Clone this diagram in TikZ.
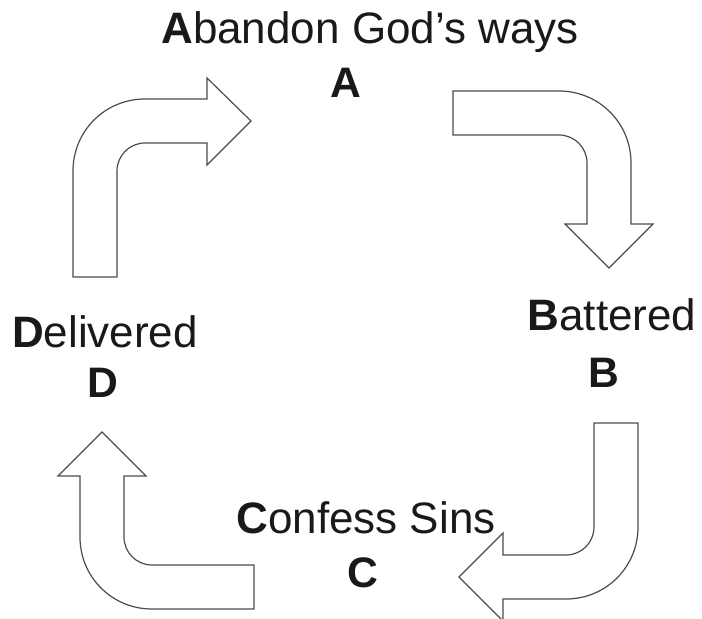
\documentclass[tikz,border=0pt]{standalone}
\usepackage{fontspec}
\setmainfont{Liberation Sans}
\begin{document}
\begin{tikzpicture}[
        x=0.75pt,y=-0.75pt,
        bent/.style={draw=black!70,fill=white,line width=0.9pt,line join=miter},
        stage/.style={anchor=base,inner sep=0pt,text=black!90,font=\fontsize{33}{39}\selectfont},
        stageletter/.style={stage,font=\fontsize{32}{38}\selectfont\bfseries},
        % bent/.style={draw=gray,fill=white},
        ]
    \useasboundingbox (0,0) rectangle (702,618);

    % the four stages
    \node [stage] (abandon) at (370,43) {\textbf{A}bandon God's ways};
    \node [stageletter] (a) at (346,97) {A};
    \node [stage] (battered) at (612,330) {\textbf{B}attered};
    \node [stageletter] (b) at (604,387) {B};
    \node [stage] (confess) at (366,533) {\textbf{C}onfess Sins};
    \node [stageletter] (c) at (363,587) {C};
    \node [stage] (delivered) at (105,347) {\textbf{D}elivered};
    \node [stageletter] (d) at (103,397) {D};

    % D to A
    \draw [bent] (73,277) -- (73,171) .. controls (73,131) and (105,99) .. (145,99)
        -- (207,99) -- (207,78) -- (251,121) -- (207,165) -- (207,143) -- (145,143)
        .. controls (129.5,143) and (117,155.5) .. (117,171) -- (117,277) -- cycle;
    % A to B
    \draw [bent] (453,91) -- (559,91) .. controls (599,91) and (631,123) .. (631,163)
        -- (631,224) -- (653,224) -- (609,268) -- (565,224) -- (587,224) -- (587,163)
        .. controls (587,147.5) and (574.5,135) .. (559,135) -- (453,135) -- cycle;
    % B to C
    \draw [bent] (594,423) -- (594,527) .. controls (594,542.5) and (581.5,555) .. (566,555)
        -- (503,555) -- (503,533) -- (459,577) -- (503,621) -- (503,599) -- (566,599)
        .. controls (606,599) and (638,567) .. (638,527) -- (638,423) -- cycle;
    % C to D
    \draw [bent] (254,565) -- (152,565) .. controls (136.5,565) and (124,552.5) .. (124,537)
        -- (124,476) -- (146,476) -- (102,432) -- (58,476) -- (80,476) -- (80,537)
        .. controls (80,577) and (112,609) .. (152,609) -- (254,609) -- cycle;
\end{tikzpicture}
\end{document}
